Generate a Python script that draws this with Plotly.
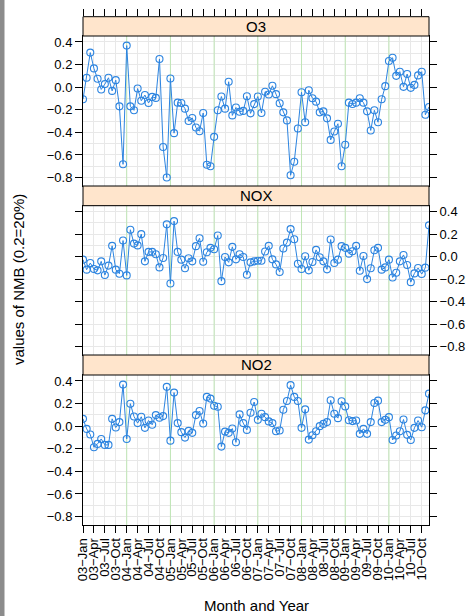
import plotly.graph_objects as go

# ---------------- data ----------------
years = ["03", "04", "05", "06", "07", "08", "09", "10"]
months = ["Jan", "Feb", "Mar", "Apr", "May", "Jun", "Jul", "Aug", "Sep", "Oct", "Nov", "Dec"]
quarter_months = ["Jan", "Apr", "Jul", "Oct"]

o3 = [-0.107, 0.083, 0.306, 0.166, 0.074, -0.02, 0.027, 0.083, -0.033, 0.062, -0.17, -0.683,
      0.368, -0.17, -0.205, -0.012, -0.12, -0.07, -0.14, -0.086, -0.095, 0.25, -0.53, -0.80,
      0.077, -0.407, -0.137, -0.14, -0.19, -0.30, -0.273, -0.357, -0.39, -0.229, -0.687, -0.70,
      -0.44, -0.205, -0.083, -0.19, 0.048, -0.25, -0.18, -0.217, -0.21, -0.08, -0.232, -0.15,
      -0.083, -0.229, -0.04, -0.065, 0.012, -0.062, -0.143, -0.223, -0.294, -0.78, -0.66, -0.366,
      -0.045, -0.31, -0.027, -0.098, -0.128, -0.223, -0.214, -0.276, -0.467, -0.392, -0.324, -0.70,
      -0.51, -0.137, -0.149, -0.137, -0.098, -0.137, -0.214, -0.383, -0.205, -0.31, -0.107, 0.009,
      0.232, 0.26, 0.10, 0.137, 0.003, 0.116, -0.006, 0.02, 0.104, 0.137, -0.244, -0.175]

nox = [-0.027, -0.116, -0.057, -0.11, -0.122, -0.042, -0.164, -0.08, 0.096, -0.116, -0.152, 0.143,
       -0.167, 0.239, 0.116, 0.10, 0.20, -0.042, 0.042, 0.042, 0.021, -0.096, -0.012, 0.287,
       -0.239, 0.316, 0.042, -0.027, -0.104, -0.015, -0.042, 0.093, 0.164, -0.045, 0.039, 0.078,
       0.066, 0.188, -0.218, -0.003, -0.051, 0.087, -0.024, 0.021, -0.003, -0.161, -0.051, -0.042,
       -0.036, -0.036, 0.045, 0.096, -0.024, -0.069, -0.137, 0.072, 0.125, 0.245, 0.155, -0.063,
       -0.11, 0.003, -0.122, -0.048, 0.06, -0.006, -0.042, -0.113, 0.152, -0.057, -0.027, 0.093,
       0.078, 0.027, 0.048, 0.096, -0.125, 0.006, -0.20, -0.104, 0.057, 0.078, -0.116, -0.096,
       -0.027, -0.185, -0.143, -0.042, 0.015, -0.075, -0.227, -0.149, -0.101, -0.155, -0.098, 0.278]

no2 = [0.065, -0.024, -0.074, -0.187, -0.157, -0.113, -0.166, -0.166, 0.065, -0.012, 0.036, 0.368,
       -0.113, 0.199, 0.086, 0.027, 0.083, -0.015, 0.05, 0.012, 0.098, 0.074, 0.089, 0.348,
       -0.128, 0.297, 0.027, -0.053, -0.101, -0.042, -0.059, 0.098, 0.134, 0.024, 0.259, 0.244,
       0.181, 0.172, -0.181, -0.048, -0.059, -0.021, -0.143, 0.104, 0.027, -0.033, 0.119, 0.214,
       0.056, 0.11, 0.08, 0.042, 0.027, -0.045, -0.039, 0.146, 0.223, 0.363, 0.259, 0.223,
       -0.015, 0.149, -0.119, -0.08, -0.045, 0.0, 0.02, 0.036, 0.229, 0.11, 0.071, 0.22,
       0.175, 0.053, 0.045, 0.05, -0.068, -0.024, -0.068, 0.036, 0.205, 0.226, 0.036, 0.056,
       0.08, -0.122, -0.083, -0.045, 0.059, -0.077, -0.122, -0.015, 0.05, -0.009, 0.14, 0.288]

panels = ["O3", "NOX", "NO2"]
series = {"O3": o3, "NOX": nox, "NO2": no2}

# month index and labels derived from the categories
labels = [f"{y}\u2212{m}" for y in years for m in months]
x_idx = list(range(len(labels)))
tick_idx = [i for i, lab in enumerate(labels) if lab.split("\u2212")[1] in quarter_months]
tick_txt = [labels[i] for i in tick_idx]
jan_idx = [i for i, lab in enumerate(labels) if lab.endswith("Jan") and i > 0]

# ---------------- layout geometry ----------------
W, H = 476, 616
def py(px):
    return 1 - px / H

x_dom = [83 / W, 429 / W]
plot_px = {"O3": (36, 186), "NOX": (205.7, 355), "NO2": (375, 525)}
strip_px = {"O3": (16.7, 36), "NOX": (186, 205.7), "NO2": (355, 375)}
axis_id = {"NO2": "", "NOX": "2", "O3": "3"}

LINE = "#2c84e0"
GRID = "#e8e8e8"
GREEN = "#bfe6b5"
STRIP = "#ffe5cc"
FONT = "Liberation Sans, Arial, Helvetica, sans-serif"
yrange = [-0.875, 0.453]

fig = go.Figure()

# green year reference lines (drawn first, under the data)
gx, gy = [], []
for j in jan_idx:
    gx += [j, j, None]
    gy += [yrange[0], yrange[1], None]
for p in panels:
    a = axis_id[p]
    fig.add_trace(go.Scatter(x=gx, y=gy, mode="lines", xaxis="x" + a, yaxis="y" + a,
                             line=dict(color=GREEN, width=1), showlegend=False,
                             hoverinfo="skip"))

for p in panels:
    a = axis_id[p]
    fig.add_trace(go.Scatter(
        x=x_idx, y=series[p], mode="lines+markers",
        xaxis="x" + a, yaxis="y" + a,
        line=dict(color=LINE, width=1),
        marker=dict(symbol="circle-open", size=7, color=LINE, line=dict(width=1.1, color=LINE)),
        showlegend=False, hoverinfo="skip",
    ))

# invisible trace on the strip subplot so its top tick axis is drawn
fig.add_trace(go.Scatter(x=[x_idx[0]], y=[0.5], xaxis="x4", yaxis="y4", mode="markers",
                         marker=dict(opacity=0), showlegend=False, hoverinfo="skip"))

common_x = dict(range=[x_idx[0], x_idx[-1]], tickmode="array", tickvals=tick_idx,
                showgrid=True, gridcolor=GRID, gridwidth=1, zeroline=False, automargin=False,
                showline=True, linecolor="black", linewidth=1, mirror=True,
                tickfont=dict(family=FONT, size=13, color="black"))
common_y = dict(range=yrange, dtick=0.2, tick0=0, tickformat=".1f", automargin=False,
                showgrid=True, gridcolor=GRID, gridwidth=1, zeroline=False,
                showline=True, linecolor="black", linewidth=1, mirror="ticks",
                ticks="outside", ticklen=7, tickcolor="black", tickwidth=1,
                minor=dict(dtick=0.1, tick0=0, showgrid=True, gridcolor=GRID, ticks=""),
                tickfont=dict(family=FONT, size=13, color="black"))

lay = {}
for p in panels:
    a = axis_id[p]
    y0, y1 = plot_px[p]
    xa = dict(common_x, domain=x_dom, anchor="y" + a)
    if p == "NO2":
        xa.update(ticks="outside", ticklen=7, tickcolor="black", ticktext=tick_txt,
                  showticklabels=True, tickangle=-90)
    else:
        xa.update(ticks="", showticklabels=False)
    ya = dict(common_y, domain=[py(y1), py(y0)], anchor="x" + a)
    if p == "NOX":
        ya.update(side="right")
    lay["xaxis" + a] = xa
    lay["yaxis" + a] = ya

# strip subplot above O3 carrying the top ticks
s0, s1 = strip_px["O3"]
lay["xaxis4"] = dict(range=[x_idx[0], x_idx[-1]], tickmode="array", tickvals=tick_idx,
                     domain=x_dom, anchor="y4", side="top", ticks="outside", ticklen=7,
                     tickcolor="black", showticklabels=False, showgrid=False, automargin=False,
                     zeroline=False, showline=False)
lay["yaxis4"] = dict(range=[0, 1], domain=[py(s1), py(s0)], anchor="x4", visible=False,
                     automargin=False)

shapes = []
# left window border
shapes.append(dict(type="rect", xref="paper", yref="paper", x0=0, x1=4.5 / W, y0=0, y1=1,
                   fillcolor="#8c8c8c", line=dict(width=0), layer="above"))
annotations = []
for p in panels:
    s0, s1 = strip_px[p]
    shapes.append(dict(type="rect", xref="paper", yref="paper", x0=x_dom[0], x1=x_dom[1],
                       y0=py(s1), y1=py(s0), fillcolor=STRIP,
                       line=dict(color="black", width=1), layer="above"))
    annotations.append(dict(text=p, x=(x_dom[0] + x_dom[1]) / 2, y=(py(s0) + py(s1)) / 2,
                            xref="paper", yref="paper", showarrow=False,
                            font=dict(family=FONT, size=15, color="black"),
                            xanchor="center", yanchor="middle"))

annotations.append(dict(text="values of NMB (0.2=20%)", x=18 / W, y=py(280), xref="paper",
                        yref="paper", showarrow=False, textangle=-90,
                        font=dict(family=FONT, size=15, color="black"),
                        xanchor="center", yanchor="middle"))
annotations.append(dict(text="Month and Year", x=(x_dom[0] + x_dom[1]) / 2, y=py(605),
                        xref="paper", yref="paper", showarrow=False,
                        font=dict(family=FONT, size=15, color="black"),
                        xanchor="center", yanchor="middle"))

fig.update_layout(width=W, height=H, margin=dict(l=0, r=0, t=0, b=0, autoexpand=False),
                  paper_bgcolor="white", plot_bgcolor="white",
                  shapes=shapes, annotations=annotations, **lay)

fig.write_html("out.html")
